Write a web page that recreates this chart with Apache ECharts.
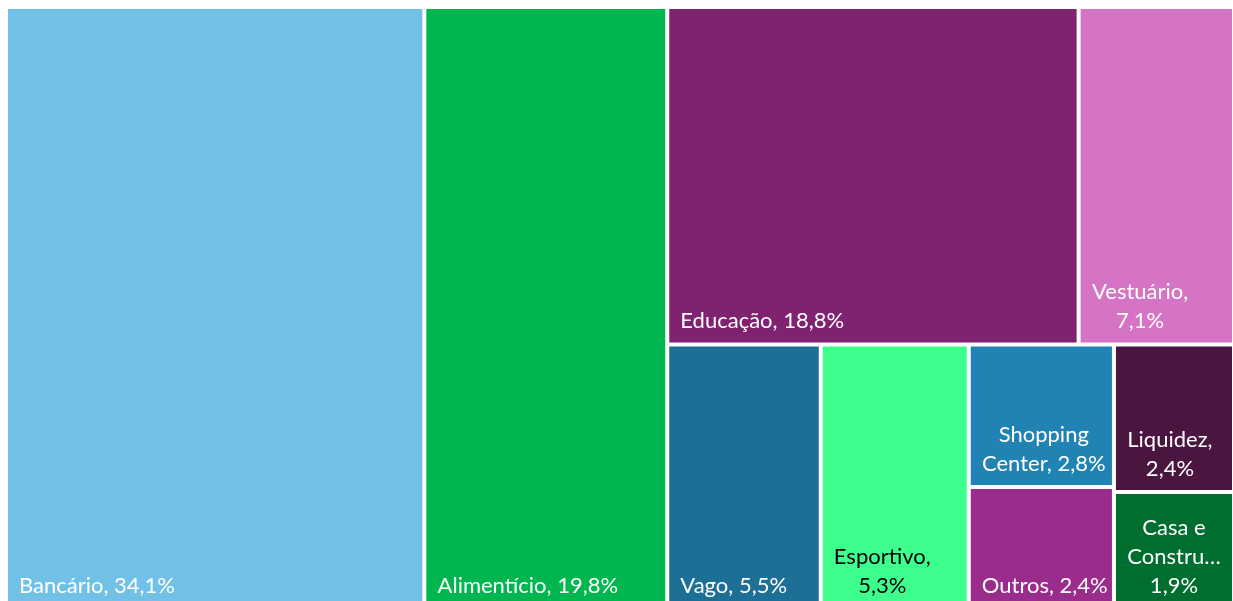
<!DOCTYPE html>
<html>
<head>
<meta charset="utf-8">
<script src="https://cdn.jsdelivr.net/npm/echarts@6/dist/echarts.min.js"></script>
<style>
    html, body { margin: 0; padding: 0; background: #fff; }
    #chart { width: 1233px; height: 601px; }
</style>
</head>
<body>
<div id="chart"></div>
<script>
    // shares of the portfolio, in %
    const names = ['Bancário', 'Alimentício', 'Educação', 'Vestuário', 'Vago', 'Esportivo',
        'Shopping Center', 'Outros', 'Liquidez', 'Casa e Construção'];
    const shares = [34.1, 19.8, 18.8, 7.1, 5.5, 5.3, 2.8, 2.4, 2.4, 1.9];
    const colors = ['#71C0E6', '#00B74F', '#7F2370', '#D574C5', '#1D6F95', '#3DFF8E',
        '#2083B4', '#9A2C8B', '#4A1640', '#006E2F'];
    const darkText = ['Esportivo'];

    const fontFamily = 'Lato, "Noto Sans", sans-serif';
    const fontSize = 22;
    const lineHeight = 29;
    const padLeft = 10;
    const padBottom = 6;

    const measure = document.createElement('canvas').getContext('2d');
    measure.font = fontSize + 'px ' + fontFamily;
    const textW = s => measure.measureText(s).width;

    function labelText(i) {
        return names[i] + ', ' + String(shares[i]).replace('.', ',') + '%';
    }

    // word wrap like the original: long words are cut with an ellipsis
    function wrap(text, maxW, cutW) {
        const lines = [];
        let cur = '';
        text.split(' ').forEach(function (word) {
            const tryLine = cur ? cur + ' ' + word : word;
            if (textW(tryLine) <= maxW) {
                cur = tryLine;
                return;
            }
            if (cur) lines.push(cur);
            cur = word;
            if (textW(word) > maxW) {
                let cut = word;
                while (cut.length > 1 && textW(cut + '…') > cutW) cut = cut.slice(0, -1);
                lines.push(cut + '…');
                cur = '';
            }
        });
        if (cur) lines.push(cur);
        return lines;
    }

    function leaf(i, rect) {
        const node = {
            name: names[i],
            value: shares[i],
            itemStyle: { color: colors[i] }
        };
        const label = {};
        if (darkText.indexOf(names[i]) >= 0) label.color = '#000';
        if (rect) {
            const lines = wrap(labelText(i), rect.width - padLeft, rect.width - 2 * padLeft);
            const blockW = Math.ceil(Math.max.apply(null, lines.map(textW))) + 2;
            label.formatter = lines.map(l => '{t|' + l + '}').join('\n');
            label.padding = [
                Math.max(rect.height - lines.length * lineHeight - padBottom - 1, 0),
                Math.max(rect.width - padLeft - blockW, 0),
                padBottom,
                padLeft
            ];
        }
        node.label = label;
        return node;
    }

    function group() {
        return { name: '', children: Array.prototype.slice.call(arguments) };
    }

    // nesting follows the blocks of the original picture
    function buildData(rects) {
        const L = i => leaf(i, rects && rects[names[i]]);
        return [
            L(0),
            L(1),
            group(
                group(L(2), L(3)),
                group(L(4), L(5), group(L(6), L(7)), group(L(8), L(9)))
            )
        ];
    }

    const myChart = echarts.init(document.getElementById('chart'));
    myChart.setOption({
        animation: false,
        series: [{
            type: 'treemap',
            left: 8,
            top: 9,
            right: 1,
            bottom: -6,
            roam: false,
            nodeClick: false,
            sort: false,
            squareRatio: 1,
            breadcrumb: { show: false },
            itemStyle: {
                borderWidth: 0,
                gapWidth: 4,
                borderColor: '#fff'
            },
            label: {
                show: true,
                position: 'insideTopLeft',
                distance: 0,
                color: '#fff',
                fontFamily: fontFamily,
                fontSize: fontSize,
                lineHeight: lineHeight,
                overflow: 'none',
                rich: {
                    t: { align: 'center', fontFamily: fontFamily, fontSize: fontSize, lineHeight: lineHeight }
                }
            },
            upperLabel: { show: false },
            data: buildData(null)
        }]
    });

    // second pass: place each label at the bottom of its own rectangle
    const seriesData = myChart.getModel().getSeriesByIndex(0).getData();
    const rects = {};
    seriesData.each(function (idx) {
        const name = seriesData.getName(idx);
        const lay = seriesData.getItemLayout(idx);
        if (name && lay) rects[name] = lay;
    });
    myChart.setOption({ series: [{ data: buildData(rects) }] });
</script>
</body>
</html>
